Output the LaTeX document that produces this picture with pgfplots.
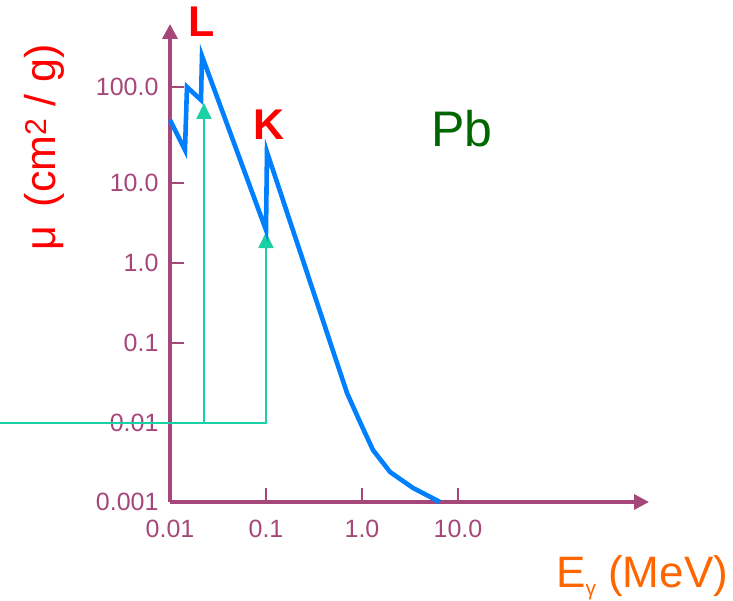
\documentclass[border=0pt]{standalone}
\usepackage{fontspec}
\setmainfont{Liberation Sans}
\usepackage{pgfplots}
\pgfplotsset{compat=1.18}
\usetikzlibrary{arrows.meta}
\definecolor{axmaroon}{RGB}{166,71,122}
\definecolor{curveblue}{RGB}{0,128,255}
\definecolor{edgeteal}{RGB}{26,209,165}
\definecolor{pbgreen}{RGB}{0,102,0}
\definecolor{labelorange}{RGB}{255,102,0}
\begin{document}
\begin{tikzpicture}
\useasboundingbox (-170pt,-99pt) rectangle (563pt,502pt);
\begin{axis}[
  at={(0pt,0pt)}, anchor=south west,
  scale only axis, width=479pt, height=478pt,
  xmode=log, ymode=log,
  xmin=0.01, xmax=976, ymin=0.001029, ymax=971.6,
  axis x line=bottom, axis y line=left,
  axis line style={draw=axmaroon, line width=3.5pt, -{Triangle[length=15pt,width=15pt]}},
  xtick={0.01,0.1,1,10}, xticklabels={0.01,0.1,1.0,10.0},
  ytick={0.001029,0.01,0.1,1,10,158.5}, yticklabels={0.001,0.01,0.1,1.0,10.0,100.0},
  minor xtick={}, minor ytick={},
  minor tick style={draw=none},
  tick align=inside, major tick length=14pt,
  tick style={draw=axmaroon, line width=2pt},
  ticklabel style={font=\fontsize{25}{25}\selectfont, text=axmaroon},
  x tick label style={yshift=-15pt},
  y tick label style={xshift=-8pt},
  /pgf/number format/assume math mode=true,
  clip=false,
]
\addplot[edgeteal, line width=1.8pt, mark=none, -{Triangle[length=16pt,width=15pt]}]
  coordinates {(0.0226,0.01) (0.0226,100)};
\addplot[edgeteal, line width=1.8pt, mark=none, -{Triangle[length=16pt,width=15pt]}]
  coordinates {(0.000169,0.01) (0.1,0.01) (0.1,2.44)};
\addplot[curveblue, line width=4.6pt, mark=none] coordinates {
  (0.01,61.3) (0.01433,25.9) (0.01503,158.5) (0.02104,109.0) (0.02154,386.7)
  (0.1,2.585) (0.1024,24.4)
  (0.698,0.0237) (0.953,0.01029) (1.30,0.0046) (1.96,0.00244) (3.40,0.00154) (6.49,0.00103)
};
\end{axis}
\node[anchor=base, text=red, font=\fontsize{43}{43}\selectfont\bfseries] at (32pt,465pt) {L};
\node[anchor=base, text=red, font=\fontsize{43}{43}\selectfont\bfseries] at (99pt,362pt) {K};
\node[anchor=base, text=pbgreen, font=\fontsize{50}{50}\selectfont] at (292pt,355pt) {Pb};
\node[anchor=base west, inner sep=0pt, rotate=90, text=red, font=\fontsize{43}{43}\selectfont] at (-114pt,251pt) {μ\hspace{0.44em}(cm\textsuperscript{2} / g)};
\node[anchor=base west, inner sep=0pt, text=labelorange, font=\fontsize{44}{44}\selectfont] at (386pt,-86pt) {E\raisebox{-7.5pt}{\fontsize{21}{21}\selectfont γ} (MeV)};
\end{tikzpicture}
\end{document}
